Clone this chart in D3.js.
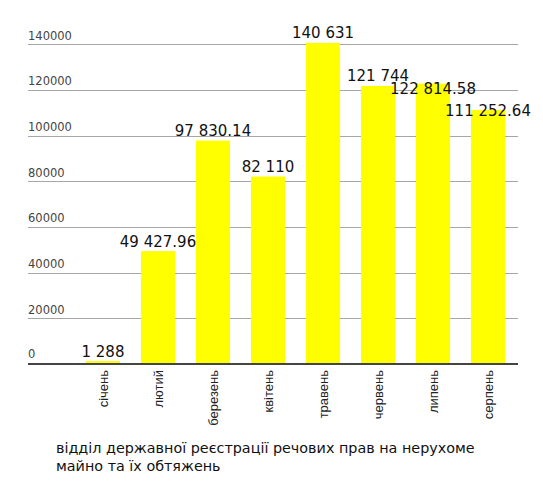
<!DOCTYPE html>
<html>
<head>
<meta charset="utf-8">
<script src="https://cdn.jsdelivr.net/npm/d3@7"></script>
<style>
  body { margin: 0; background: #fff; }
</style>
</head>
<body>
<div id="chart"></div>
<script>
// months and values
var months = ["січень", "лютий", "березень", "квітень", "травень", "червень", "липень", "серпень"];
var values = [1288, 49427.96, 97830.14, 82110, 140631, 121744, 122814.58, 111252.64];
var valueLabels = ["1 288", "49 427.96", "97 830.14", "82 110", "140 631", "121 744", "122 814.58", "111 252.64"];
var yTicks = [0, 20000, 40000, 60000, 80000, 100000, 120000, 140000];
var caption = ["відділ державної реєстрації речових прав на нерухоме", "майно та їх обтяжень"];

var width = 543,
  height = 482,
  gridLeft = 28,
  gridRight = 518;

var svg = d3.select("#chart").append("svg")
  .attr("width", width)
  .attr("height", height);

var x = d3.scaleBand()
  .domain(months)
  .range([75.5, 515.5])
  .paddingInner(0.38)
  .paddingOuter(0.19);

var y = d3.scaleLinear()
  .domain([0, 140000])
  .range([364, 44.3]);

// grid lines + tick labels
var grid = svg.append("g");
grid.selectAll("line")
  .data(yTicks.filter(function (d) { return d > 0; }))
  .enter().append("line")
  .attr("x1", gridLeft)
  .attr("x2", gridRight)
  .attr("y1", function (d) { return Math.round(y(d)) + 0.5; })
  .attr("y2", function (d) { return Math.round(y(d)) + 0.5; })
  .attr("stroke", "#a6a6a6")
  .attr("stroke-width", 1);

grid.selectAll("text")
  .data(yTicks)
  .enter().append("text")
  .attr("x", gridLeft)
  .attr("y", function (d) { return y(d) - (d === 0 ? 6 : 4.5); })
  .attr("font-family", "DejaVu Sans, Verdana, sans-serif")
  .attr("font-size", "11.5px")
  .attr("fill", "#444")
  .text(function (d) { return d; });

// bars
svg.selectAll(".bar")
  .data(values)
  .enter().append("rect")
  .attr("class", "bar")
  .attr("x", function (d, i) { return x(months[i]); })
  .attr("width", x.bandwidth())
  .attr("y", function (d) { return y(d); })
  .attr("height", function (d) { return y(0) - y(d); })
  .attr("fill", "#ffff00");

// x axis base line
svg.append("line")
  .attr("x1", gridLeft)
  .attr("x2", gridRight)
  .attr("y1", y(0))
  .attr("y2", y(0))
  .attr("stroke", "#444")
  .attr("stroke-width", 2);

// value labels, pushed down when they collide with the previous one
var labels = svg.selectAll(".val")
  .data(values)
  .enter().append("text")
  .attr("class", "val")
  .attr("x", function (d, i) { return x(months[i]) + x.bandwidth() / 2; })
  .attr("y", function (d) { return y(d) - 4.5; })
  .attr("text-anchor", "middle")
  .attr("font-family", "DejaVu Sans, Verdana, sans-serif")
  .attr("font-size", "15px")
  .attr("fill", "#111")
  .text(function (d, i) { return valueLabels[i]; });

var prev = null;
labels.each(function (d) {
  var node = this,
    box = node.getBBox();
  if (prev &&
      box.x < prev.x + prev.width && box.x + box.width > prev.x &&
      box.y < prev.y + prev.height && box.y + box.height > prev.y) {
    var prevBase = +d3.select(prev.node).attr("y");
    var base = Math.max(y(d) + 6, prevBase + 13);
    d3.select(node).attr("y", base);
    box = node.getBBox();
  }
  prev = {x: box.x, y: box.y, width: box.width, height: box.height, node: node};
});

// month labels
svg.selectAll(".month")
  .data(months)
  .enter().append("text")
  .attr("class", "month")
  .attr("transform", function (d) {
    return "translate(" + (x(d) + x.bandwidth() / 2) + ",370) rotate(-90)";
  })
  .attr("dy", "0.35em")
  .attr("text-anchor", "end")
  .attr("font-family", "Liberation Sans, Arial, sans-serif")
  .attr("font-size", "13px")
  .attr("fill", "#222")
  .text(function (d) { return d; });

// caption
svg.append("g").selectAll("text")
  .data(caption)
  .enter().append("text")
  .attr("x", 56)
  .attr("y", function (d, i) { return 453 + i * 17.5; })
  .attr("font-family", "DejaVu Sans, Verdana, sans-serif")
  .attr("font-size", "14.35px")
  .attr("fill", "#111")
  .text(function (d) { return d; });
</script>
</body>
</html>
